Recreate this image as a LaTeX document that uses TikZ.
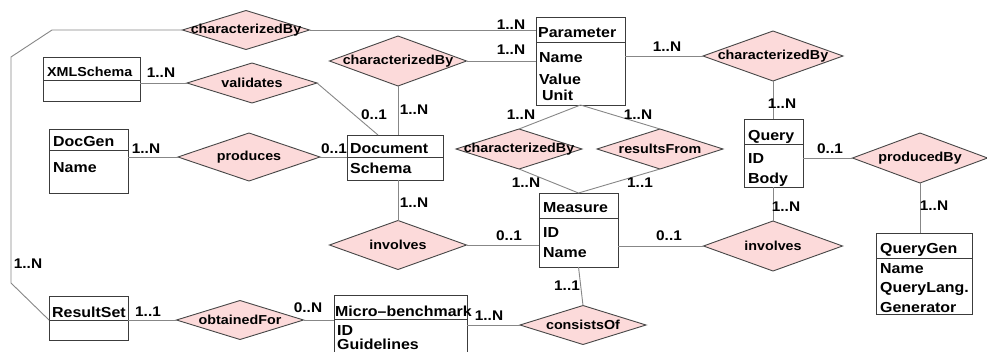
\documentclass[tikz,border=0pt]{standalone}
\usepackage{fontspec}
\setmainfont{Liberation Sans}[FakeStretch=1.1]
\usetikzlibrary{shapes.geometric}
\definecolor{relfill}{RGB}{252,218,218}
\definecolor{reldraw}{RGB}{70,70,70}
\definecolor{linkgray}{RGB}{135,135,135}
\definecolor{boxdraw}{RGB}{60,60,60}
\begin{document}
\begin{tikzpicture}[x=1pt,y=-1pt,
  ent/.style={draw=boxdraw, line width=1pt, fill=white, inner sep=0pt, outer sep=0pt},
  rel/.style n args={2}{diamond, draw=reldraw, fill=relfill, line width=0.9pt,
    inner sep=0pt, outer sep=0pt, minimum width=#1, minimum height=#2},
  rellbl/.style={font=\fontsize{13}{15}\selectfont\bfseries, text=black, inner sep=0pt},
  attr/.style={anchor=base west, inner sep=0pt, font=\fontsize{14.5}{17}\selectfont\bfseries},
  card/.style={inner sep=0pt, font=\fontsize{14}{16}\selectfont\bfseries},
  link/.style={draw=linkgray, line width=0.9pt},
  divider/.style={draw=boxdraw, line width=1pt}]
\clip (0,0) rectangle (987,351);
\fill[white] (0,0) rectangle (987,351);

% bend points of the long loop and the oblique attachment on Document
\coordinate (bendA) at (52,30);
\coordinate (bendB) at (11,57);
\coordinate (bendC) at (11,283);
\coordinate (rsCorner) at (49,320);
\coordinate (docTop) at (378,135);

% ---------- entities ----------
\node[ent, minimum width=89, minimum height=88] (param) at (580.5,61) {};
\node[ent, minimum width=97, minimum height=44] (xml) at (91.5,79) {};
\node[ent, minimum width=79, minimum height=64] (docgen) at (88.5,161) {};
\node[ent, minimum width=96, minimum height=45] (doc) at (395,157.5) {};
\node[ent, minimum width=59, minimum height=68] (query) at (773.5,153) {};
\node[ent, minimum width=79, minimum height=74] (measure) at (578.5,230) {};
\node[ent, minimum width=96, minimum height=81] (qgen) at (924,273.5) {};
\node[ent, minimum width=79, minimum height=44] (rset) at (88.5,318) {};
\node[ent, minimum width=133, minimum height=70] (micro) at (400.5,330) {};

% header dividers
\draw[divider] (536,42) -- (625,42);
\draw[divider] (43,80) -- (140,80);
\draw[divider] (49,150) -- (128,150);
\draw[divider] (347,157) -- (443,157);
\draw[divider] (744,144) -- (803,144);
\draw[divider] (539,218) -- (618,218);
\draw[divider] (876,258) -- (972,258);
\draw[divider] (49,320) -- (128,320);
\draw[divider] (334,319) -- (467,319);

% ---------- relationships ----------
\node[rel={127}{39}, label={[rellbl]center:characterizedBy}] (chTop) at (246,30) {};
\node[rel={130}{40}, label={[rellbl]center:validates}] (val) at (252,83) {};
\node[rel={142}{48}, label={[rellbl]center:produces}] (prod) at (249,157) {};
\node[rel={137}{50}, label={[rellbl]center:characterizedBy}] (chMid) at (398,61) {};
\node[rel={140}{50}, label={[rellbl]center:characterizedBy}] (chRight) at (773,56) {};
\node[rel={126}{40}, label={[rellbl]center:characterizedBy}] (chMeas) at (519,149) {};
\node[rel={126}{40}, label={[rellbl]center:resultsFrom}] (rfrom) at (660,149) {};
\node[rel={135}{50}, label={[rellbl]center:producedBy}] (pby) at (920,158) {};
\node[rel={137}{49}, label={[rellbl]center:involves}] (invL) at (398,245) {};
\node[rel={139}{50}, label={[rellbl]center:involves}] (invR) at (773,246) {};
\node[rel={127}{39}, label={[rellbl]center:obtainedFor}] (obt) at (240,320) {};
\node[rel={126}{39}, label={[rellbl]center:consistsOf}] (cons) at (583,325) {};

% ---------- connectors ----------
\path[link] (chTop.east) -- (chTop.east -| param.west);
\path[link] (chTop.west) -- (bendA) -- (bendB) -- (bendC) -- (rsCorner);
\path[link] (val.west) -- (val.west -| xml.east);
\path[link] (val.east) -- (docTop);
\path[link] (chMid.east) -- (chMid.east -| param.west);
\path[link] (chMid.south) -- (chMid.south |- doc.north);
\path[link] (param.east |- chRight.west) -- (chRight.west);
\path[link] (chRight.south) -- (chRight.south |- query.north);
\path[link] (param.south) -- (chMeas.north);
\path[link] (param.south) -- (rfrom.north);
\path[link] (chMeas.south) -- (measure.north);
\path[link] (rfrom.south) -- (measure.north);
\path[link] (docgen.east |- prod.west) -- (prod.west);
\path[link] (prod.east) -- (prod.east -| doc.west);
\path[link] (invL.north |- doc.south) -- (invL.north);
\path[link] (invL.east) -- (invL.east -| measure.west);
\path[link] (measure.east |- invR.west) -- (invR.west);
\path[link] (invR.north |- query.south) -- (invR.north);
\path[link] (query.east |- pby.west) -- (pby.west);
\path[link] (pby.south) -- (pby.south |- qgen.north);
\path[link] (measure.south) -- (cons.north);
\path[link] (micro.east |- cons.west) -- (cons.west);
\path[link] (rset.east |- obt.west) -- (obt.west);
\path[link] (obt.east) -- (obt.east -| micro.west);

% ---------- entity texts ----------
\node[attr] (tParam) at (538,37) {Parameter};
\node[attr] (tPName) at (539,62) {Name};
\node[attr] (tPValue) at (539,84) {Value};
\node[attr] (tPUnit) at (542,100) {Unit};
\node[attr, font=\fontsize{13}{15}\selectfont\bfseries] (tXml) at (47,76) {XMLSchema};
\node[attr] (tDocGen) at (53,146) {DocGen};
\node[attr] (tDGName) at (53,172) {Name};
\node[attr] (tDoc) at (350,153) {Document};
\node[attr] (tSchema) at (350,173) {Schema};
\node[attr] (tQuery) at (748,140) {Query};
\node[attr] (tQID) at (748,163) {ID};
\node[attr] (tQBody) at (748,183) {Body};
\node[attr] (tMeas) at (543,212) {Measure};
\node[attr] (tMID) at (543,237) {ID};
\node[attr] (tMName) at (543,257) {Name};
\node[attr] (tQGen) at (880,253) {QueryGen};
\node[attr] (tQGName) at (880,273) {Name};
\node[attr] (tQGLang) at (880,292) {QueryLang.};
\node[attr] (tQGGen) at (880,312) {Generator};
\node[attr] (tRSet) at (52,317) {ResultSet};
\node[attr] (tMicro) at (335,316) {Micro–benchmark};
\node[attr] (tMiID) at (337,335.5) {ID};
\node[attr] (tMiGuide) at (337,349.5) {Guidelines};

% ---------- cardinalities ----------
\node[card] (k1) at (511,25) {1..N};
\node[card] (k2) at (511,50) {1..N};
\node[card] (k3) at (667,47) {1..N};
\node[card] (k4) at (782,104) {1..N};
\node[card] (k5) at (374,115) {0..1};
\node[card] (k6) at (414,110) {1..N};
\node[card] (k7) at (521,115) {1..N};
\node[card] (k8) at (638,115) {1..N};
\node[card] (k9) at (526,183) {1..N};
\node[card] (k10) at (640,183) {1..1};
\node[card] (k11) at (334,149) {0..1};
\node[card] (k12) at (146,149) {1..N};
\node[card] (k13) at (161,73) {1..N};
\node[card] (k14) at (414,203) {1..N};
\node[card] (k15) at (509,236) {0..1};
\node[card] (k16) at (669,236) {0..1};
\node[card] (k17) at (786,207) {1..N};
\node[card] (k18) at (830,149) {0..1};
\node[card] (k19) at (934,206) {1..N};
\node[card] (k20) at (567,286) {1..1};
\node[card] (k21) at (489,316) {1..N};
\node[card] (k22) at (148,312) {1..1};
\node[card] (k23) at (308,308) {0..N};
\node[card] (k24) at (28,264) {1..N};
\end{tikzpicture}
\end{document}
